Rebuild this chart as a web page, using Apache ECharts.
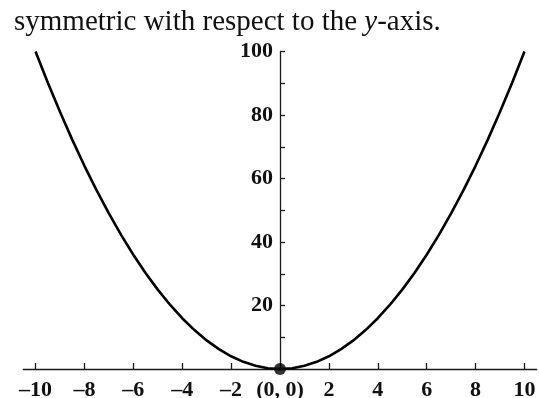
<!DOCTYPE html>
<html>
<head>
<meta charset="utf-8">
<script src="https://cdn.jsdelivr.net/npm/echarts@6/dist/echarts.min.js"></script>
<style>
  html, body { margin: 0; padding: 0; background: #fff; }
  #chart { width: 539px; height: 398px; }
</style>
</head>
<body>
<div id="chart"></div>
<script>
// Points on the parabola y = x^2
const xValues = [-10, -9.5, -9, -8.5, -8, -7.5, -7, -6.5, -6, -5.5, -5, -4.5, -4, -3.5, -3, -2.5, -2, -1.5, -1, -0.5,
  0, 0.5, 1, 1.5, 2, 2.5, 3, 3.5, 4, 4.5, 5, 5.5, 6, 6.5, 7, 7.5, 8, 8.5, 9, 9.5, 10];
const yValues = [100, 90.25, 81, 72.25, 64, 56.25, 49, 42.25, 36, 30.25, 25, 20.25, 16, 12.25, 9, 6.25, 4, 2.25, 1, 0.25,
  0, 0.25, 1, 2.25, 4, 6.25, 9, 12.25, 16, 20.25, 25, 30.25, 36, 42.25, 49, 56.25, 64, 72.25, 81, 90.25, 100];

// Vertex marker
const vertex = [[0, 0]];

// Tick positions and labels
const xTicks = [-10, -8, -6, -4, -2, 0, 2, 4, 6, 8, 10];
const xTickLabels = ['\u201310', '\u20138', '\u20136', '\u20134', '\u20132', '(0, 0)', '2', '4', '6', '8', '10'];
const yLabelValues = [20, 40, 60, 80, 100];

const serif = '"Liberation Serif", "Times New Roman", serif';
const axisColor = '#1a1a1a';

// Plot area: x spans -10.5..10.5, so the y axis sits halfway across
const gridLeft = 23.3;
const gridRight = 2.3;
const plotWidth = 539 - gridLeft - gridRight;
const yAxisShift = -plotWidth / 2;

const chart = echarts.init(document.getElementById('chart'), null, { renderer: 'canvas' });

chart.setOption({
  animation: false,
  backgroundColor: '#ffffff',
  title: {
    text: '{a|symmetric with respect to the }{i|y}{a|-axis.}',
    left: 9,
    top: 3,
    textStyle: {
      fontWeight: 'normal',
      rich: {
        a: { fontFamily: serif, fontSize: 29, fontWeight: 'normal', color: '#111' },
        i: { fontFamily: serif, fontSize: 29, fontWeight: 'normal', fontStyle: 'italic', color: '#111' }
      }
    }
  },
  grid: {
    left: gridLeft, right: gridRight, top: 51.5, bottom: 29,
    containLabel: false,
    outerBoundsMode: 'none'
  },
  xAxis: {
    type: 'value',
    min: -10.5,
    max: 10.5,
    splitLine: { show: false },
    axisLine: { onZero: false, lineStyle: { color: axisColor, width: 1.3 } },
    axisTick: { inside: true, length: 6, customValues: xTicks, lineStyle: { color: axisColor, width: 1.3 } },
    axisLabel: {
      customValues: xTicks,
      margin: 10,
      fontFamily: serif,
      fontSize: 22,
      fontWeight: 'bold',
      color: '#111',
      formatter: function (v) {
        const i = xTicks.indexOf(Math.round(v));
        return i >= 0 ? xTickLabels[i] : '';
      }
    }
  },
  yAxis: {
    type: 'value',
    min: 0,
    max: 100,
    interval: 10,
    offset: yAxisShift,
    splitLine: { show: false },
    axisLine: { onZero: false, lineStyle: { color: axisColor, width: 1.3 } },
    axisTick: { inside: true, length: 5, lineStyle: { color: axisColor, width: 1.3 } },
    axisLabel: {
      margin: 7,
      fontFamily: serif,
      fontSize: 22,
      fontWeight: 'bold',
      color: '#111',
      formatter: function (v) {
        return yLabelValues.indexOf(v) >= 0 ? String(v) : '';
      }
    }
  },
  series: [
    {
      type: 'line',
      data: xValues.map((x, i) => [x, yValues[i]]),
      showSymbol: false,
      clip: false,
      lineStyle: { color: '#000', width: 2.6 },
      z: 3
    },
    {
      type: 'scatter',
      data: vertex,
      symbol: 'circle',
      symbolSize: 12,
      clip: false,
      itemStyle: { color: '#000' },
      z: 4
    }
  ]
});
</script>
</body>
</html>
